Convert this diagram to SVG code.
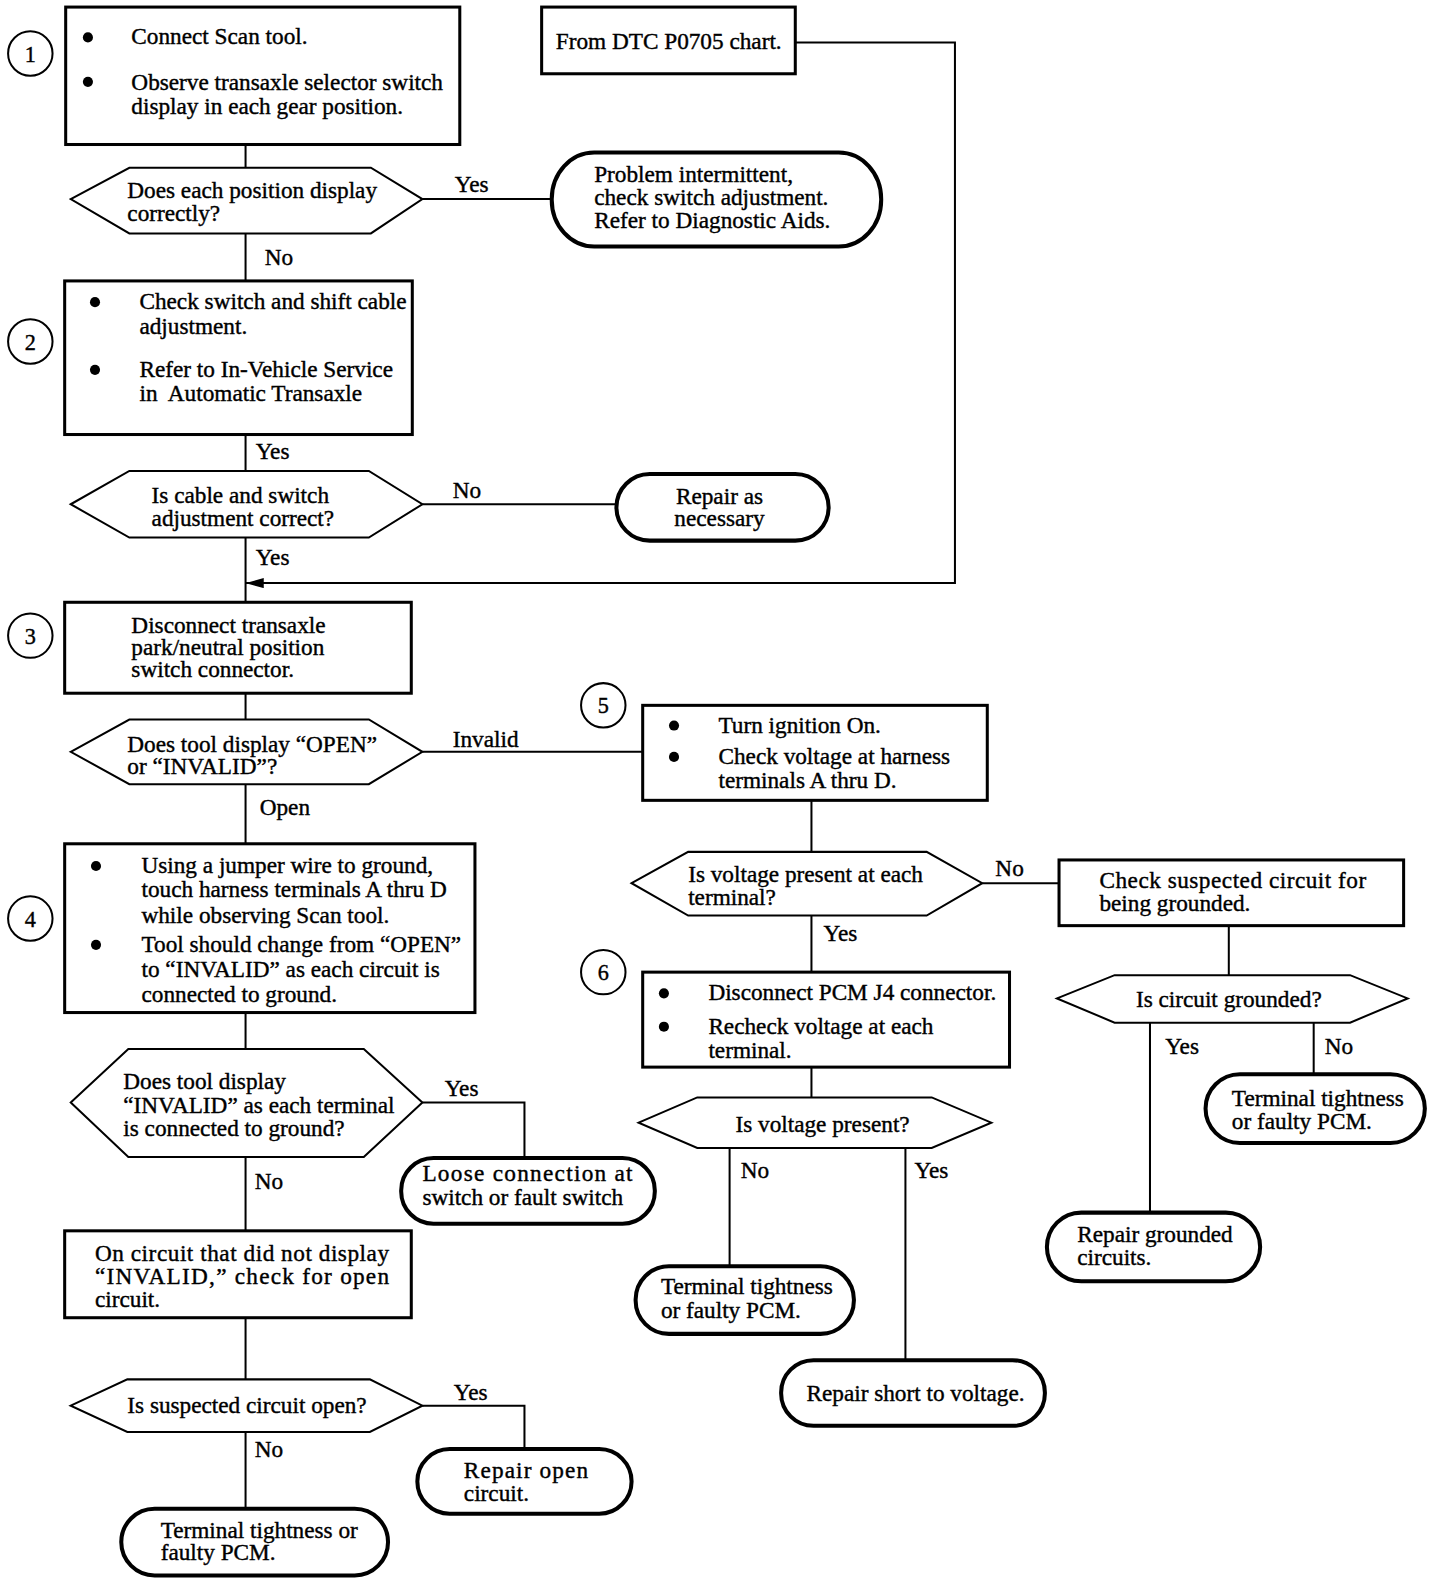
<svg xmlns="http://www.w3.org/2000/svg" width="1440" height="1584" viewBox="0 0 1440 1584">
<defs>
<style>
.box{fill:#fff;stroke:#000;stroke-width:3}
.dec{fill:#fff;stroke:#000;stroke-width:2}
.term{fill:#fff;stroke:#000;stroke-width:4}
.num{fill:#fff;stroke:#000;stroke-width:2}
.conn{fill:none;stroke:#000;stroke-width:2}
.dot{fill:#000}
text{font-family:"Liberation Serif","Times New Roman",serif;font-size:23px;fill:#000;stroke:#000;stroke-width:0.4}
.n{font-size:22px;text-anchor:middle}
.c{text-anchor:middle}
</style>
<marker id="arrow" markerUnits="userSpaceOnUse" markerWidth="18" markerHeight="10" refX="18" refY="5" orient="auto">
<path d="M0,0 L18,5 L0,10 Z" fill="#000"/>
</marker>
</defs>
<rect width="1440" height="1584" fill="#fff"/>
<g transform="scale(1.010526)">
<g id="connectors">
<path class="conn" d="M243,143 V166"/>
<path class="conn" d="M418,197 H546"/>
<path class="conn" d="M243,231 V278"/>
<path class="conn" d="M243,430 V466"/>
<path class="conn" d="M418,499 H610"/>
<path class="conn" d="M243,532 V596"/>
<path class="conn" d="M787,42 H945 V577 H243" marker-end="url(#arrow)"/>
<path class="conn" d="M243,686 V712"/>
<path class="conn" d="M418,744 H636"/>
<path class="conn" d="M243,776 V835"/>
<path class="conn" d="M803,792 V843"/>
<path class="conn" d="M972,874 H1048"/>
<path class="conn" d="M1216,916 V965"/>
<path class="conn" d="M1138,1012 V1200"/>
<path class="conn" d="M1300,1012 V1063"/>
<path class="conn" d="M803,906 V962"/>
<path class="conn" d="M803,1056 V1086"/>
<path class="conn" d="M722,1136 V1253"/>
<path class="conn" d="M896,1136 V1346"/>
<path class="conn" d="M243,1002 V1038"/>
<path class="conn" d="M418,1091 H519 V1146"/>
<path class="conn" d="M243,1145 V1218"/>
<path class="conn" d="M243,1304 V1365"/>
<path class="conn" d="M418,1391 H519 V1434"/>
<path class="conn" d="M243,1417 V1493"/>
<text x="450" y="190">Yes</text>
<text x="262" y="262">No</text>
<text x="253" y="454">Yes</text>
<text x="448" y="493">No</text>
<text x="253" y="559">Yes</text>
<text x="448" y="739">Invalid</text>
<text x="257" y="807">Open</text>
<text x="985" y="867">No</text>
<text x="815" y="931">Yes</text>
<text x="1153" y="1043">Yes</text>
<text x="1311" y="1043">No</text>
<text x="733" y="1166">No</text>
<text x="905" y="1166">Yes</text>
<text x="440" y="1085">Yes</text>
<text x="252" y="1177">No</text>
<text x="449" y="1385">Yes</text>
<text x="252" y="1442">No</text>
</g>
<g id="step1">
<circle class="num" cx="30" cy="53" r="22"/>
<text class="n" x="30" y="61">1</text>
</g>
<g id="box1">
<rect class="box" x="65" y="7" width="390" height="136"/>
<circle class="dot" cx="87" cy="37" r="5"/>
<circle class="dot" cx="87" cy="81" r="5"/>
<text x="130" y="44">Connect Scan tool.</text>
<text x="130" y="89">Observe transaxle selector switch</text>
<text x="130" y="113">display in each gear position.</text>
</g>
<g id="from">
<rect class="box" x="536" y="7" width="251" height="66"/>
<text x="550" y="48">From DTC P0705 chart.</text>
</g>
<g id="dec1">
<polygon class="dec" points="70,197 128,166 367,166 418,197 367,231 128,231"/>
<text x="126" y="196">Does each position display</text>
<text x="126" y="219">correctly?</text>
</g>
<g id="term1">
<rect class="term" x="546" y="151" width="326" height="93" rx="42" ry="46"/>
<text x="588" y="180">Problem intermittent,</text>
<text x="588" y="203">check switch adjustment.</text>
<text x="588" y="226">Refer to Diagnostic Aids.</text>
</g>
<g id="step2">
<circle class="num" cx="30" cy="338" r="22"/>
<text class="n" x="30" y="346">2</text>
</g>
<g id="box2">
<rect class="box" x="64" y="278" width="344" height="152"/>
<circle class="dot" cx="94" cy="299" r="5"/>
<circle class="dot" cx="94" cy="366" r="5"/>
<text x="138" y="306">Check switch and shift cable</text>
<text x="138" y="331">adjustment.</text>
<text x="138" y="373">Refer to In-Vehicle Service</text>
<text x="138" y="397" xml:space="preserve">in  Automatic Transaxle</text>
</g>
<g id="dec2">
<polygon class="dec" points="70,499 128,466 365,466 418,499 365,532 128,532"/>
<text x="150" y="498">Is cable and switch</text>
<text x="150" y="521">adjustment correct?</text>
</g>
<g id="term2">
<rect class="term" x="610" y="469" width="210" height="66" rx="33"/>
<text class="c" x="712" y="499">Repair as</text>
<text class="c" x="712" y="521">necessary</text>
</g>
<g id="step3">
<circle class="num" cx="30" cy="629" r="22"/>
<text class="n" x="30" y="637">3</text>
</g>
<g id="box3">
<rect class="box" x="64" y="596" width="343" height="90"/>
<text x="130" y="626">Disconnect transaxle</text>
<text x="130" y="648">park/neutral position</text>
<text x="130" y="670">switch connector.</text>
</g>
<g id="dec3">
<polygon class="dec" points="70,744 128,712 365,712 418,744 365,776 128,776"/>
<text x="126" y="744">Does tool display “OPEN”</text>
<text x="126" y="766">or “INVALID”?</text>
</g>
<g id="step5">
<circle class="num" cx="597" cy="698" r="22"/>
<text class="n" x="597" y="706">5</text>
</g>
<g id="box5">
<rect class="box" x="636" y="698" width="341" height="94"/>
<circle class="dot" cx="667" cy="718" r="5"/>
<circle class="dot" cx="667" cy="749" r="5"/>
<text x="711" y="725">Turn ignition On.</text>
<text x="711" y="756">Check voltage at harness</text>
<text x="711" y="780">terminals A thru D.</text>
</g>
<g id="step4">
<circle class="num" cx="30" cy="909" r="22"/>
<text class="n" x="30" y="917">4</text>
</g>
<g id="box4">
<rect class="box" x="64" y="835" width="406" height="167"/>
<circle class="dot" cx="95" cy="857" r="5"/>
<circle class="dot" cx="95" cy="935" r="5"/>
<text x="140" y="864">Using a jumper wire to ground,</text>
<text x="140" y="888">touch harness terminals A thru D</text>
<text x="140" y="913">while observing Scan tool.</text>
<text x="140" y="942">Tool should change from “OPEN”</text>
<text x="140" y="967">to “INVALID” as each circuit is</text>
<text x="140" y="992">connected to ground.</text>
</g>
<g id="dec5">
<polygon class="dec" points="625,874 681,843 917,843 972,874 917,906 681,906"/>
<text x="681" y="873">Is voltage present at each</text>
<text x="681" y="896">terminal?</text>
</g>
<g id="boxCS">
<rect class="box" x="1048" y="851" width="341" height="65"/>
<text x="1088" y="879" textLength="264" lengthAdjust="spacing">Check suspected circuit for</text>
<text x="1088" y="902">being grounded.</text>
</g>
<g id="dec7">
<polygon class="dec" points="1046,988 1103,965 1336,965 1393,988 1336,1012 1103,1012"/>
<text class="c" x="1216" y="997">Is circuit grounded?</text>
</g>
<g id="termTT2">
<rect class="term" x="1193" y="1063" width="217" height="68" rx="34"/>
<text x="1219" y="1094">Terminal tightness</text>
<text x="1219" y="1117">or faulty PCM.</text>
</g>
<g id="termRG">
<rect class="term" x="1036" y="1200" width="211" height="68" rx="34"/>
<text x="1066" y="1229">Repair grounded</text>
<text x="1066" y="1252">circuits.</text>
</g>
<g id="step6">
<circle class="num" cx="597" cy="962" r="22"/>
<text class="n" x="597" y="970">6</text>
</g>
<g id="box6">
<rect class="box" x="636" y="962" width="363" height="94"/>
<circle class="dot" cx="657" cy="983" r="5"/>
<circle class="dot" cx="657" cy="1016" r="5"/>
<text x="701" y="990">Disconnect PCM J4 connector.</text>
<text x="701" y="1023">Recheck voltage at each</text>
<text x="701" y="1047">terminal.</text>
</g>
<g id="dec6">
<polygon class="dec" points="632,1111 690,1086 922,1086 981,1111 922,1136 690,1136"/>
<text class="c" x="814" y="1120">Is voltage present?</text>
</g>
<g id="termTT1">
<rect class="term" x="629" y="1253" width="216" height="67" rx="33"/>
<text x="654" y="1281">Terminal tightness</text>
<text x="654" y="1304">or faulty PCM.</text>
</g>
<g id="termRS">
<rect class="term" x="773" y="1346" width="261" height="65" rx="32"/>
<text class="c" x="906" y="1386">Repair short to voltage.</text>
</g>
<g id="dec4">
<polygon class="dec" points="70,1091 127,1038 360,1038 418,1091 360,1145 127,1145"/>
<text x="122" y="1078">Does tool display</text>
<text x="122" y="1101">“INVALID” as each terminal</text>
<text x="122" y="1124">is connected to ground?</text>
</g>
<g id="termLoose">
<rect class="term" x="397" y="1146" width="251" height="65" rx="32"/>
<text x="418" y="1169" textLength="208" lengthAdjust="spacing">Loose connection at</text>
<text x="418" y="1192">switch or fault switch</text>
</g>
<g id="box7">
<rect class="box" x="64" y="1218" width="343" height="86"/>
<text x="94" y="1248" textLength="291" lengthAdjust="spacing">On circuit that did not display</text>
<text x="94" y="1271" textLength="291" lengthAdjust="spacing">“INVALID,” check for open</text>
<text x="94" y="1293">circuit.</text>
</g>
<g id="dec8">
<polygon class="dec" points="70,1391 126,1365 366,1365 418,1391 366,1417 126,1417"/>
<text x="126" y="1398">Is suspected circuit open?</text>
</g>
<g id="termRO">
<rect class="term" x="413" y="1434" width="212" height="64" rx="32"/>
<text x="459" y="1463" textLength="123" lengthAdjust="spacing">Repair open</text>
<text x="459" y="1485">circuit.</text>
</g>
<g id="termTT3">
<rect class="term" x="120" y="1493" width="264" height="66" rx="33"/>
<text x="159" y="1522">Terminal tightness or</text>
<text x="159" y="1544">faulty PCM.</text>
</g>
</g>
</svg>
